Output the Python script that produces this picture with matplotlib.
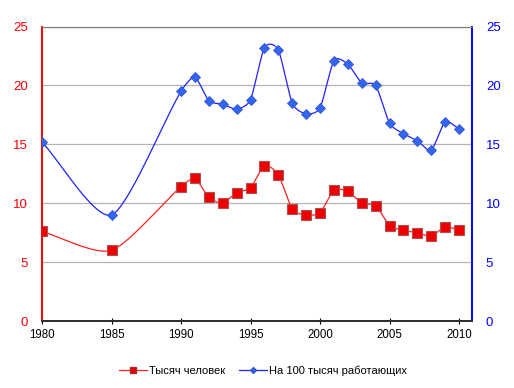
import numpy as np
import matplotlib.pyplot as plt

years = [1980, 1985, 1990, 1991, 1992, 1993, 1994, 1995, 1996, 1997, 1998, 1999,
         2000, 2001, 2002, 2003, 2004, 2005, 2006, 2007, 2008, 2009, 2010]
thousands = [7.6, 6.0, 11.4, 12.1, 10.5, 10.0, 10.9, 11.3, 13.2, 12.4, 9.5, 9.0,
             9.2, 11.1, 11.0, 10.0, 9.8, 8.1, 7.7, 7.5, 7.2, 8.0, 7.7]
per_100k = [15.2, 9.0, 19.5, 20.7, 18.7, 18.4, 18.0, 18.8, 23.2, 23.0, 18.5, 17.6,
            18.1, 22.1, 21.8, 20.2, 20.0, 16.8, 15.9, 15.3, 14.5, 16.9, 16.3]
y_ticks = [0, 5, 10, 15, 20, 25]
x_ticks = [1980, 1985, 1990, 1995, 2000, 2005, 2010]

plt.rcParams['font.family'] = ['Liberation Sans', 'DejaVu Sans']


def smooth(x, y, n=20):
    # Catmull-Rom style curve through the points, like Excel smoothed lines
    x = np.asarray(x, float)
    y = np.asarray(y, float)
    px = np.concatenate([[2 * x[0] - x[1]], x, [2 * x[-1] - x[-2]]])
    py = np.concatenate([[2 * y[0] - y[1]], y, [2 * y[-1] - y[-2]]])
    xs, ys = [], []
    t = np.linspace(0, 1, n)
    for i in range(1, len(px) - 2):
        p0, p1, p2, p3 = px[i - 1], px[i], px[i + 1], px[i + 2]
        q0, q1, q2, q3 = py[i - 1], py[i], py[i + 1], py[i + 2]
        m1x = (p2 - p0) / 2 * 0.7
        m2x = (p3 - p1) / 2 * 0.7
        m1y = (q2 - q0) / 2 * 0.7
        m2y = (q3 - q1) / 2 * 0.7
        span = p2 - p1
        s1 = span / (p2 - p0) * 2
        s2 = span / (p3 - p1) * 2
        h00 = 2 * t**3 - 3 * t**2 + 1
        h10 = t**3 - 2 * t**2 + t
        h01 = -2 * t**3 + 3 * t**2
        h11 = t**3 - t**2
        xs.append(h00 * p1 + h10 * m1x * s1 + h01 * p2 + h11 * m2x * s2)
        ys.append(h00 * q1 + h10 * m1y * s1 + h01 * q2 + h11 * m2y * s2)
    return np.concatenate(xs), np.concatenate(ys)


fig = plt.figure(figsize=(5.14, 3.88), dpi=100)
ax = fig.add_axes([42 / 514, 1 - 321 / 388, 430 / 514, 294.5 / 388])
ax2 = ax.twinx()

sx, sy = smooth(years, thousands)
ax.plot(sx, sy, color='#ff2020', lw=0.9, zorder=3)
ax.plot(years, thousands, ls='none', marker='s', ms=6.5, mfc='#ee0000',
        mec='#b05050', mew=0.8, zorder=4)

bx, by = smooth(years, per_100k)
ax2.plot(bx, by, color='#2020ff', lw=0.9, zorder=3)
ax2.plot(years, per_100k, ls='none', marker='D', ms=4.8, mfc='#3366ee',
         mec='#3355cc', mew=0.6, zorder=4)

for a in (ax, ax2):
    a.set_ylim(0, 25)
    a.set_yticks(y_ticks)
    a.set_xlim(1980, 2010.93)

ax.set_xticks(x_ticks)
ax.yaxis.grid(True, color='#b4b4b4', lw=0.9)
ax.set_axisbelow(True)

ax.tick_params(axis='y', colors='red', labelsize=9.5, length=0, pad=10)
ax2.tick_params(axis='y', colors='blue', labelsize=9.5, length=0, pad=10)
ax.tick_params(axis='x', colors='black', labelsize=8.3, length=5,
               direction='inout', pad=3)

for a in (ax, ax2):
    a.spines['left'].set_color('red')
    a.spines['right'].set_color('blue')
    a.spines['top'].set_color('#808080')
    a.spines['bottom'].set_color('#303030')
    a.spines['left'].set_linewidth(1.2)
    a.spines['right'].set_linewidth(1.2)
    a.spines['bottom'].set_linewidth(1.4)

h1, = ax.plot([], [], color='#ff2020', lw=0.9, marker='s', ms=4.5,
              mfc='#ee0000', mec='#a03030', label='Тысяч человек')
h2, = ax.plot([], [], color='#2020ff', lw=0.9, marker='D', ms=3,
              mfc='#3366ee', mec='#3355cc', label='На 100 тысяч работающих')
fig.legend(handles=[h1, h2], loc='center', bbox_to_anchor=(0.512, 1 - 371 / 388),
           ncol=2, frameon=False, fontsize=8, handlelength=2.5,
           columnspacing=1.2, handletextpad=0.2)

fig.savefig('out.png', dpi=100)
